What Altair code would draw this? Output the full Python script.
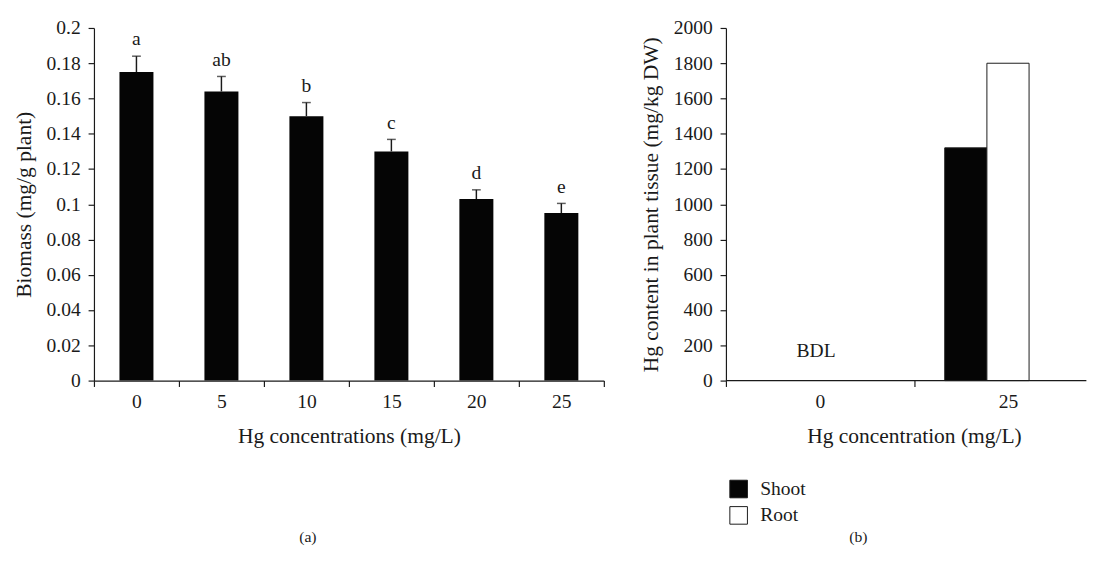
import altair as alt
import pandas as pd

# ---- data (a) ----
conc_labels = ["0", "5", "10", "15", "20", "25"]
biomass = [0.175, 0.164, 0.150, 0.130, 0.103, 0.095]
biomass_err = [0.009, 0.0085, 0.0077, 0.0068, 0.0052, 0.0055]
letters = ["a", "ab", "b", "c", "d", "e"]
biomass_ticks = [0, 0.02, 0.04, 0.06, 0.08, 0.1, 0.12, 0.14, 0.16, 0.18, 0.2]

# ---- data (b) ----
hg_levels = ["0", "25"]
tissues = ["Shoot", "Root"]
hg_at_25 = [1320, 1800]
bdl_label = "BDL"
bdl_value = 166
hg_ticks = list(range(0, 2001, 200))

FONT = "Liberation Serif"
INK = "#1a1a1a"
BLACK = "#050505"

df_a = pd.DataFrame({"conc": conc_labels, "biomass": biomass,
                     "err": biomass_err, "letter": letters})
df_a["upper"] = df_a["biomass"] + df_a["err"]

x_a = alt.X("conc:N", sort=conc_labels,
            scale=alt.Scale(domain=conc_labels, paddingInner=0, paddingOuter=0),
            axis=alt.Axis(title="Hg concentrations (mg/L)", labelAngle=0, tickBand="extent"))


def y_a(field):
    return alt.Y(field, type="quantitative",
                 scale=alt.Scale(domain=[0, 0.2], nice=False, zero=True),
                 axis=alt.Axis(title="Biomass (mg/g plant)", values=biomass_ticks, format="~g"))


base_a = alt.Chart(df_a).encode(x=x_a)
bars_a = base_a.mark_bar(width=alt.RelativeBandSize(0.4), color=BLACK).encode(y=y_a("biomass"))
err_a = base_a.mark_rule(color=INK, strokeWidth=1.5).encode(y=y_a("biomass"), y2="upper:Q")
cap_a = base_a.mark_tick(color=INK, size=9, thickness=1.5).encode(y=y_a("upper"))
txt_a = base_a.mark_text(dy=-11, baseline="alphabetic", fontSize=20, font=FONT, color=INK).encode(
    y=y_a("upper"), text="letter:N")

panel_a = alt.layer(bars_a, err_a, cap_a, txt_a).properties(
    width=522, height=361,
    title=alt.TitleParams("(a)", orient="bottom", anchor="middle", frame="group",
                          dx=-42, offset=85, fontSize=16, fontWeight="normal", font=FONT, color=INK))

# ---- panel (b) ----
STEP_B = 192.5
df_b = pd.DataFrame({"conc": ["25"] * len(tissues), "tissue": tissues, "hg": hg_at_25})
df_bdl = pd.DataFrame({"conc": [hg_levels[0]], "hg": [bdl_value], "label": [bdl_label]})
df_base = pd.DataFrame({"hg": [0]})

x_b = alt.X("conc:N", sort=hg_levels,
            scale=alt.Scale(domain=hg_levels, paddingInner=0, paddingOuter=0,
                            range=[0, 2 * STEP_B]),
            axis=alt.Axis(title="Hg concentration (mg/L)", labelAngle=0, domain=False,
                          tickOffset=-STEP_B / 2, labelOffset=STEP_B / 2,
                          titleX=STEP_B, titleAnchor="middle"))
y_b = alt.Y("hg:Q", scale=alt.Scale(domain=[0, 2000], nice=False),
            axis=alt.Axis(title="Hg content in plant tissue (mg/kg DW)", values=hg_ticks, format="d"))

bars_b = alt.Chart(df_b).mark_bar(stroke=INK, strokeWidth=1).encode(
    x=x_b,
    xOffset=alt.XOffset("tissue:N",
                        scale=alt.Scale(domain=tissues + ["_"], paddingOuter=0.73, paddingInner=0)),
    y=y_b,
    color=alt.Color("tissue:N",
                    scale=alt.Scale(domain=tissues, range=[BLACK, "#ffffff"]),
                    legend=alt.Legend(title=None, orient="none", legendX=650, legendY=462,
                                      symbolType="square", symbolSize=324,
                                      symbolStrokeColor=INK, symbolStrokeWidth=1,
                                      labelFontSize=20, labelFont=FONT, labelColor=INK,
                                      rowPadding=5, labelOffset=12, padding=0)),
)
bdl_txt = alt.Chart(df_bdl).mark_text(fontSize=20, font=FONT, dx=-4, baseline="middle", color=INK).encode(
    x=x_b, y=y_b, text="label:N")
baseline_b = alt.Chart(df_base).mark_rule(color=INK, strokeWidth=1.2).encode(y=y_b)

panel_b = alt.layer(bars_b, bdl_txt, baseline_b).properties(
    width=369, height=361,
    title=alt.TitleParams("(b)", orient="bottom", anchor="middle", frame="group",
                          dx=-49, offset=85, fontSize=16, fontWeight="normal", font=FONT, color=INK))

chart = alt.hconcat(panel_a, panel_b, spacing=36).properties(
    padding={"left": 5, "top": 4, "right": 0, "bottom": 0}
).configure_view(stroke=None).configure_axis(
    labelFont=FONT, titleFont=FONT, labelFontSize=20, titleFontSize=22,
    titleFontWeight="normal", domainColor=INK, tickColor=INK, labelColor=INK,
    titleColor=INK, tickSize=6, grid=False, domainWidth=1.2, tickWidth=1.2
).configure_axisY(titlePadding=11, labelPadding=8).configure_axisX(labelPadding=6, titlePadding=14)

chart.save("out.html", embed_options={"renderer": "svg", "actions": False})
